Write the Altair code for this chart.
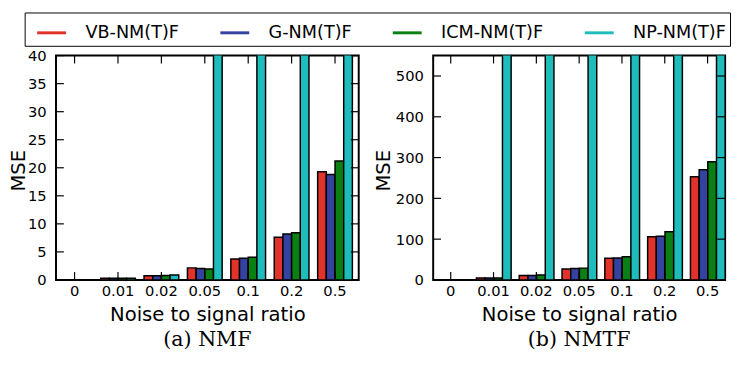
import altair as alt
import pandas as pd

ratios = ["0", "0.01", "0.02", "0.05", "0.1", "0.2", "0.5"]
methods = ["VB-NM(T)F", "G-NM(T)F", "ICM-NM(T)F", "NP-NM(T)F"]
colors = ["#e2332b", "#3442a0", "#0a7f14", "#1fbcbc"]

# (a) NMF
nmf_vb = [0.0, 0.3, 0.75, 2.15, 3.75, 7.6, 19.3]
nmf_g = [0.0, 0.3, 0.75, 2.05, 3.85, 8.2, 18.8]
nmf_icm = [0.0, 0.3, 0.8, 1.95, 4.05, 8.4, 21.2]
nmf_np = [0.0, 0.3, 0.9, 60.0, 110.0, 230.0, 500.0]

# (b) NMTF
nmtf_vb = [0.0, 5.0, 11.0, 27.0, 53.0, 106.0, 253.0]
nmtf_g = [0.0, 5.0, 11.0, 28.0, 54.0, 107.0, 270.0]
nmtf_icm = [0.0, 5.0, 12.0, 29.0, 57.0, 118.0, 290.0]
nmtf_np = [0.0, 900.0, 1000.0, 1100.0, 1200.0, 1300.0, 1500.0]

nmf_yticks = [0, 5, 10, 15, 20, 25, 30, 35, 40]
nmtf_yticks = [0, 100, 200, 300, 400, 500]

H = 229


def long_df(series):
    rows = []
    for m, vals in zip(methods, series):
        for r, v in zip(ratios, vals):
            rows.append({"ratio": r, "method": m, "mse": v})
    return pd.DataFrame(rows)


# fill scale takes its domain from the data (sorted as in `methods`);
# the legend's stroke scale has an explicit domain so both legends stay separate
fill_scale = alt.Scale(range=colors)
stroke_scale = alt.Scale(domain=methods, range=colors)


def panel(df, yticks, ymax, width, caption, title_x, align, pad_outer, with_legend):
    xdef = alt.X(
        "ratio:N",
        sort=ratios,
        scale=alt.Scale(domain=ratios, paddingInner=0.2, paddingOuter=pad_outer, align=align),
        axis=alt.Axis(
            title="Noise to signal ratio", labelAngle=0, ticks=False, domain=False,
            labelFontSize=15, labelPadding=4, titleFontSize=20, titlePadding=6,
            titleFontWeight="normal", labelColor="black", titleColor="black",
            labelFont="DejaVu Sans", titleFont="DejaVu Sans",
        ),
    )
    ydef = alt.Y(
        "mse:Q",
        scale=alt.Scale(domain=[0, ymax], nice=False),
        axis=alt.Axis(
            title="MSE", values=yticks, ticks=False, domain=False, grid=False,
            labelFontSize=15, labelPadding=10, titleFontSize=20,
            titleFontWeight="normal", titleX=title_x, titleY=117,
            labelColor="black", titleColor="black",
            labelFont="DejaVu Sans", titleFont="DejaVu Sans",
        ),
    )
    bars = alt.Chart(df).mark_bar(clip=True, stroke="black", strokeWidth=1.5).encode(
        x=xdef,
        xOffset=alt.XOffset("method:N", sort=methods,
                            scale=alt.Scale(domain=methods, paddingInner=0, paddingOuter=0)),
        y=ydef,
        fill=alt.Fill("method:N", sort=methods, scale=fill_scale, legend=None),
    )
    tdf = pd.DataFrame({"mse": yticks})
    xdf = pd.DataFrame({"ratio": ratios})
    tick = dict(color="black", strokeWidth=1.2)
    yl = alt.Chart(tdf).mark_rule(**tick).encode(y=ydef, x=alt.value(0), x2=alt.value(8))
    yr = alt.Chart(tdf).mark_rule(**tick).encode(y=ydef, x=alt.value(width - 8), x2=alt.value(width))
    xb = alt.Chart(xdf).mark_rule(**tick).encode(x=xdef, y=alt.value(H - 8), y2=alt.value(H))
    xt = alt.Chart(xdf).mark_rule(**tick).encode(x=xdef, y=alt.value(0), y2=alt.value(8))
    layers = [bars, yl, yr, xb, xt]
    if with_legend:
        ldf = pd.DataFrame({"name": methods})
        leg = alt.Chart(ldf).mark_rule(strokeWidth=3, strokeCap="butt").encode(
            stroke=alt.Stroke(
                "name:N", scale=stroke_scale, sort=methods,
                legend=alt.Legend(
                    title=None, orient="none", legendX=-32, legendY=-44,
                    direction="horizontal", columns=4, columnPadding=33,
                    gridAlign="each",
                    symbolType="stroke", symbolSize=870, symbolStrokeWidth=3,
                    symbolOffset=7,
                    labelFontSize=18, labelFont="DejaVu Sans", labelColor="black",
                    labelOffset=18, labelLimit=300, padding=4,
                    strokeColor="black", fillColor="white",
                ),
            ),
            x=alt.value(0), x2=alt.value(0), y=alt.value(0),
        )
        layers.append(leg)
    return alt.layer(*layers).properties(
        width=width, height=H,
        title=alt.TitleParams(caption, orient="bottom", font="DejaVu Serif", fontSize=21,
                              fontWeight="normal", anchor="middle", offset=5, color="black"),
    )


left = panel(long_df([nmf_vb, nmf_g, nmf_icm, nmf_np]), nmf_yticks, 40, 309,
             "(a) NMF", -28, 0.16, 0.087, True)
right = panel(long_df([nmtf_vb, nmtf_g, nmtf_icm, nmtf_np]), nmtf_yticks, 550, 298,
              "(b) NMTF", -41, 0.5, 0.01, False)

chart = (
    alt.hconcat(left, right, spacing=12)
    .properties(padding={"left": 0, "top": 0, "right": 0, "bottom": 0})
    .configure(font="DejaVu Sans")
    .configure_view(stroke="black", strokeWidth=2)
)

chart.save("out.html", embed_options={"renderer": "svg", "actions": False})
